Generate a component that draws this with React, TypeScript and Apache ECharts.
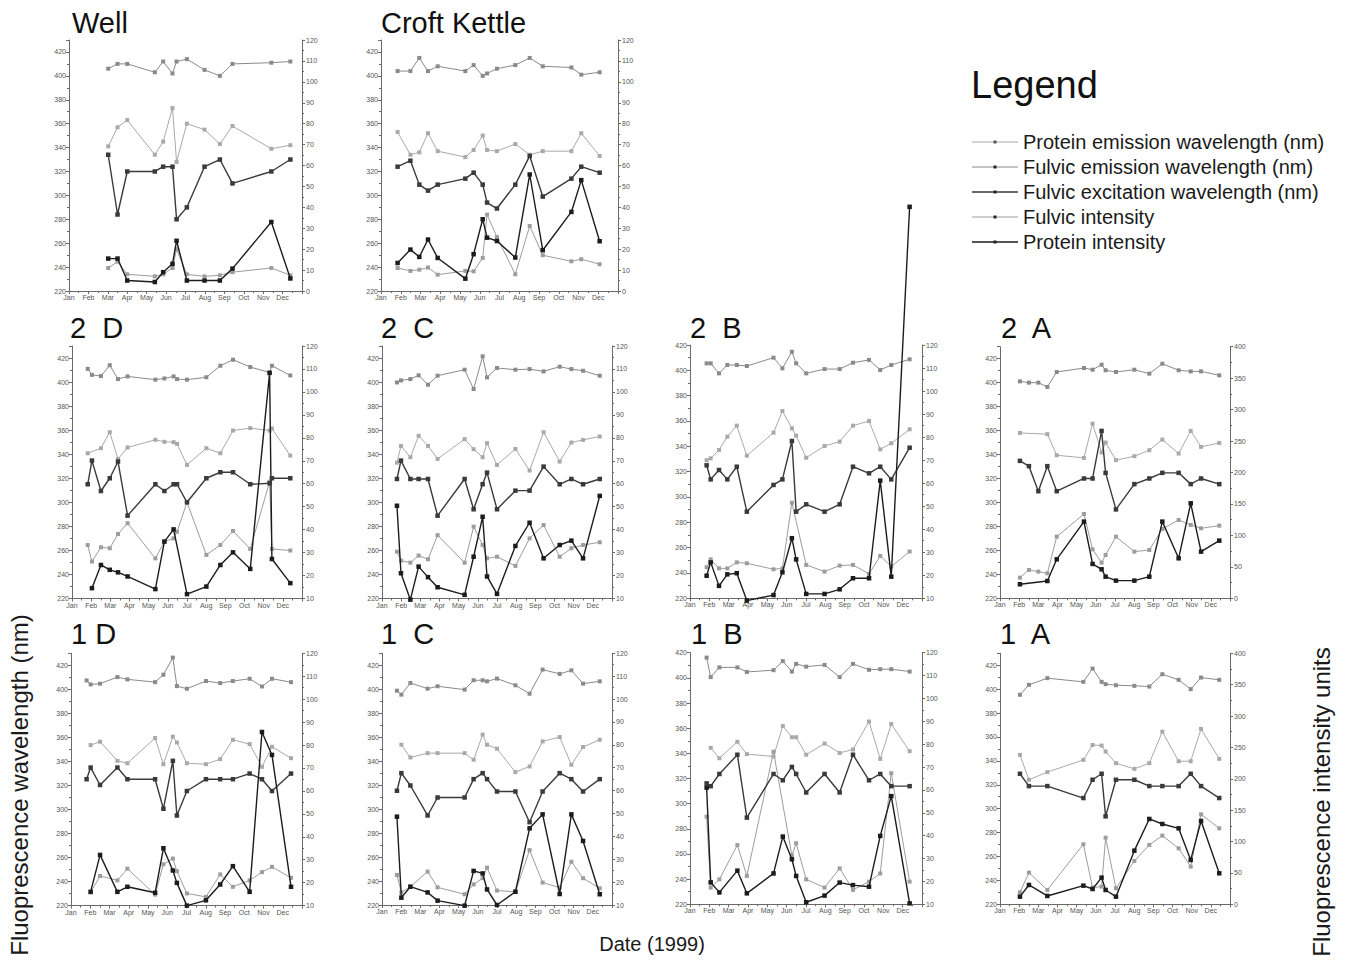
import React, { useEffect, useRef } from "react";
import * as echarts from "echarts";

const MONTH_LABELS = ["Jan", "Feb", "Mar", "Apr", "May", "Jun", "Jul", "Aug", "Sep", "Oct", "Nov", "Dec"];
const SERIES_NAMES = [
  "Protein emission wavelength (nm)",
  "Fulvic emission wavelength (nm)",
  "Fulvic excitation wavelength (nm)",
  "Fulvic intensity",
  "Protein intensity",
];
const PANEL_TITLES = ["Well", "Croft Kettle", "2  D", "2  C", "2  B", "2  A", "1 D", "1  C", "1  B", "1  A"];

// Well
const WELL_MONTHS = [2.02, 2.5, 3.0, 4.42, 4.85, 5.33, 5.54, 6.07, 6.98, 7.77, 8.42, 10.42, 11.4];
const WELL_PE = [341, 357, 363, 334, 345, 373, 328, 360, 355, 343, 358, 339, 342];
const WELL_FE = [406, 410, 410, 403, 412, 402, 412, 414, 405, 400, 410, 411, 412];
const WELL_FEX = [334, 284, 320, 320, 324, 324, 280, 290, 324, 330, 310, 320, 330];
const WELL_FI = [11, 14, 8, 7, 8, 11, 20, 8, 7, 7.5, 9, 11, 7.5];
const WELL_PI = [15.5, 15.5, 5, 4.3, 9, 13, 24, 5, 5, 5, 10.7, 33, 6];

// Croft Kettle
const CK_MONTHS = [0.84, 1.49, 1.94, 2.38, 2.87, 4.27, 4.69, 5.15, 5.37, 5.87, 6.8, 7.53, 8.19, 9.64, 10.14, 11.07];
const CK_PE = [353, 334, 336, 352, 337, 332, 338, 350, 338, 337, 343, 334, 337, 337, 352, 333];
const CK_FE = [404, 404, 415, 404, 408, 404, 409, 400, 402, 406, 409, 415, 408, 407, 401, 403];
const CK_FEX = [324, 329, 309, 304, 309, 314, 319, 309, 294, 289, 309, 333, 299, 314, 324, 319];
const CK_FI = [11, 9.6, 10.2, 11.2, 7.8, 9.6, 9.4, 15.8, 36.5, 25.8, 8, 31.1, 17.1, 14.2, 15.2, 12.8];
const CK_PI = [13.4, 19.8, 16.3, 24.6, 15.8, 5.9, 17.6, 34.3, 25.5, 23.9, 16, 55.7, 19.5, 37.8, 53, 23.8];

// 2 D
const D2_MONTHS = [0.82, 1.04, 1.51, 1.97, 2.4, 2.9, 4.35, 4.82, 5.3, 5.48, 6.0, 7.01, 7.74, 8.4, 9.3, 10.31, 10.43, 11.39];
const D2_PE = [340.8, null, 345, 358.3, 336, 345.6, 352, 350.3, 350, 348.6, 331.1, 345, 340.8, 359.7, 361.7, 359.7, 361.4, 338.9];
const D2_FE = [411, 406, 405, 414, 402.5, 404.7, 402, 403, 404.7, 402.5, 402, 404, 413.6, 418.6, 412.5, 408, 413.6, 405.5];
const D2_FEX = [315, 334.7, 309.4, 320, 333.9, 288.9, 315, 309.4, 315, 315, 300, 320, 325, 325, 315, 315.8, 320, 320];
const D2_FI = [33.3, 26.1, 32.3, 31.9, 38.1, 42.8, 27.5, 34.8, 36.2, 39.1, 51.9, 29, 33.3, 39.4, 31.6, 60.9, 31.6, 30.9];
const D2_PI = [null, 14.5, 24.6, 22.5, 21.4, 19.6, 14.1, 34.8, 40.1, null, 11.9, 15.2, 24.6, 30.1, 22.9, 108.3, 27.2, 16.7];

// 2 C
const C2_MONTHS = [0.78, 0.99, 1.48, 1.91, 2.4, 2.9, 4.31, 4.78, 5.25, 5.48, 6.0, 6.96, 7.7, 8.43, 9.27, 9.88, 10.49, 11.36];
const C2_PE = [333, 346.9, 337.5, 355.3, 346.9, 336.1, 352.5, 344.2, 337.5, 349.2, 331.1, 344.4, 326.4, 358.3, 333.9, 349.7, 351.9, 354.7];
const C2_FE = [399.7, 401.4, 402.5, 405.6, 397.8, 405.3, 410.3, 394.2, 421.4, 403.9, 411.7, 410.3, 410.8, 408.9, 412.8, 410.8, 409.4, 405.3];
const C2_FEX = [319.4, 334.7, 319.4, 319.4, 319.4, 288.9, 319.4, 294.2, 315, 324.7, 294.2, 309.7, 309.7, 329.7, 315, 319.4, 315, 319.4];
const C2_FI = [30.4, 26.5, 25.6, 28.7, 27.1, 37.6, 25.6, 41.3, 33.3, 27.5, 28.2, 24.2, 36.2, 42, 28.2, 31.9, 33.3, 34.5];
const C2_PI = [50.4, 21, 9.5, 23.9, 19.3, 14.9, 11.6, 28.2, 45.6, 19.6, 12, 32.9, 43, 27.5, 33.3, 35.2, 27.5, 54.7];

// 2 B
const B2_MONTHS = [0.86, 1.07, 1.5, 1.93, 2.42, 2.94, 4.32, 4.78, 5.27, 5.49, 6.01, 6.96, 7.74, 8.43, 9.26, 9.84, 10.41, 11.36];
const B2_PE = [329, 330.5, 337.1, 347.6, 356.3, 332.6, 350.8, 367.9, 354.2, 348.4, 331, 340.3, 343.7, 356.3, 360, 337.6, 342.4, 353.4];
const B2_FE = [405.5, 405.5, 397.6, 404.2, 404.2, 403.4, 410, 401.6, 414.7, 405.5, 397.6, 401, 401, 406, 408.2, 400.3, 404.2, 408.7];
const B2_FEX = [325, 313.9, 321.3, 313.9, 323.9, 288.4, 309.5, 313.9, 344.2, 288.4, 294.2, 288.4, 294.2, 323.9, 318.7, 323.9, 313.9, 338.9];
const B2_FI = [23.5, 26.9, 23, 23, 25.6, 25.2, 22.6, 23, 51.5, null, 24.5, 21.6, 24.2, 24.5, 20.6, 28.4, 23.8, 30.3];
const B2_PI = [19.8, 25.6, 15.4, 20.4, 20.9, 9, 11.4, 21.3, 36.1, 26.9, 11.9, 11.9, 13.9, 18.7, 18.7, 61.1, 19.4, 180];

// 2 A
const A2_MONTHS = [1.04, 1.51, 2.0, 2.47, 2.96, 4.38, 4.83, 5.3, 5.51, 6.05, 7.01, 7.79, 8.47, 9.32, 9.95, 10.49, 11.44];
const A2_PE = [358, null, null, 357, 339.4, 337.2, 365.8, 341.7, 350, 335.3, 338.6, 343.6, 352.5, 340.8, 359.7, 346.4, 349.7];
const A2_FE = [401.1, 400, 400, 396.4, 408.9, 412.2, 410.8, 415, 410.3, 408.9, 410.8, 407.5, 415.8, 410.3, 409.4, 409.4, 406.1];
const A2_FEX = [334.7, 330.3, 309.4, 330.3, 309.4, 320, 320, 359.7, 324.7, 294.2, 315.3, 320, 324.7, 324.7, 315.3, 320, 315.3];
const A2_FI = [32.8, 45, 42.4, 39.7, 98, 134, 77.9, 56.7, 68.9, 98, 74.2, 76.8, 110.2, 124.5, 116.6, 111.3, 115.5];
const A2_PI = [22.3, null, null, 27.5, 62, 121.9, 54.6, 46.1, 34.4, 28.1, 28.1, 34.4, 121.9, 63.6, 151, 74.2, 91.7];

// 1 D
const D1_MONTHS = [0.81, 1.02, 1.51, 2.41, 2.93, 4.37, 4.8, 5.29, 5.5, 6.02, 7.01, 7.75, 8.41, 9.28, 9.92, 10.44, 11.43];
const D1_PE = [null, 353.6, 356.4, 340.5, 338.5, 359.5, 337.7, 360.6, 355.8, 338.5, 337.7, 341.9, 358, 354.4, 335.5, 352.2, 342.7];
const D1_FE = [407.4, 404.1, 404.7, 410.2, 408.3, 406, 412.2, 426.4, 402.7, 400.5, 406.9, 405.2, 406.9, 408.8, 402.4, 408.8, 406];
const D1_FEX = [325.2, 334.9, 320.4, 334.9, 325.2, 325.2, 300.6, 340.5, 295, 315.4, 325.2, 325.2, 325.2, 329.9, 325.2, 315.4, 329.9];
const D1_FI = [null, 15.8, 22.9, 21, 26.1, 14.8, 28, 30.5, 25, 15.3, 13.8, 23.6, 18.2, 21, 24.6, 26.9, 22.1];
const D1_PI = [null, 16, 32.1, 16, 18.2, 15.6, 35, 25.3, 19.9, 10, 12.3, 19.2, 27.2, 16, 85.7, 75.7, 18.2];

// 1 C
const C1_MONTHS = [0.78, 1.01, 1.48, 2.38, 2.9, 4.31, 4.78, 5.25, 5.48, 6.0, 6.96, 7.7, 8.38, 9.27, 9.88, 10.49, 11.36];
const C1_PE = [null, 353.7, 343.1, 346.7, 346.7, 346.7, 341.2, 362.1, 353.7, 350.4, 330.9, 335.6, 356.5, 360.1, 337, 351.8, 357.9];
const C1_FE = [398.8, 395.5, 405.2, 400.5, 402.5, 399.7, 407.5, 407.5, 406.6, 408.9, 403.3, 396.3, 416.4, 412.8, 415.8, 404.7, 406.6];
const C1_FEX = [315.3, 330, 319.7, 294.7, 309.7, 309.7, 325, 330, 325, 314.7, 314.7, 289.1, 314.7, 330, 325, 314.7, 325];
const C1_FI = [23.1, 15.5, 18, 24.6, 17.7, 14.7, 19, 21.7, 26.3, 16.3, 15.8, 34, 19.8, 17.6, 28.9, 21.7, 17.3];
const C1_PI = [48.6, 13.2, 18, 15.5, 11.9, 9.7, 24.9, 23.8, 16.8, 10, 15.8, 43.5, 49.6, 14.8, 49.6, 38, 14.7];

// 1 B
const B1_MONTHS = [0.86, 1.07, 1.52, 2.45, 2.94, 4.32, 4.8, 5.27, 5.49, 6.01, 6.96, 7.74, 8.43, 9.26, 9.84, 10.41, 11.36];
const B1_PE = [null, 344.4, 336.1, 349.2, 339.4, 337.5, 361.7, 352.8, 352.8, 338.9, 347.8, 340.3, 343.1, 365.3, 335.6, 363.3, 341.7];
const B1_FE = [416.1, 400.6, 408.3, 408.3, 404.7, 406.1, 413.3, 405, 411.1, 408.9, 410.3, 400.6, 411.1, 406.4, 406.9, 406.9, 405];
const B1_FEX = [316.1, 313.9, 323.6, 338.9, 288.9, 323.6, 318.6, 329.2, 323.6, 308.9, 323.6, 308.9, 338.9, 318.6, 323.6, 313.9, 313.9];
const B1_FI = [48.3, 17.3, 20.9, 35.9, 22.4, 76.7, null, 31.3, 36.7, 20.9, 17.3, 25.7, 16.3, 19.9, 23.5, 67.3, 19.9];
const B1_PI = [61, 19.6, 15.2, 24.7, 14.8, 23.5, 39.6, 29.7, 22.4, 10.9, 13.8, 19.5, 18.4, 17.7, 39.9, 57.3, 10.4];

// 1 A
const A1_MONTHS = [1.04, 1.51, 2.47, 4.35, 4.83, 5.3, 5.51, 6.05, 7.01, 7.79, 8.47, 9.32, 9.95, 10.49, 11.44];
const A1_PE = [345, 324.2, 330.6, 340.8, 353.3, 352.8, 347.8, 338.1, 333.3, 338.1, 364.4, 339.7, 339.7, 366.7, 341.7];
const A1_FE = [395.3, 403.6, 409.2, 406.1, 417.2, 406.1, 404.2, 403.3, 402.8, 402.2, 412.5, 407.8, 400, 409.7, 407.8];
const A1_FEX = [329.2, 318.9, 318.9, 308.9, 324.2, 329.2, 293.6, 324.2, 324.2, 318.9, 318.9, 318.9, 329.2, 318.9, 308.9];
const A1_FI = [19.1, 50.5, 22.8, 95.6, 26.6, 28.2, 106.2, 25.5, 69.1, 94.6, 109.4, 89.2, 60, 143.4, 121.1];
const A1_PI = [12.2, 30.8, 13.3, 29.7, 24.4, 42.5, 22.8, 12.2, 85.5, 136, 128, 121.1, 70.7, 132.8, 49.4];

const PANEL_DATA = [
  [WELL_MONTHS, WELL_PE, WELL_FE, WELL_FEX, WELL_FI, WELL_PI],
  [CK_MONTHS, CK_PE, CK_FE, CK_FEX, CK_FI, CK_PI],
  [D2_MONTHS, D2_PE, D2_FE, D2_FEX, D2_FI, D2_PI],
  [C2_MONTHS, C2_PE, C2_FE, C2_FEX, C2_FI, C2_PI],
  [B2_MONTHS, B2_PE, B2_FE, B2_FEX, B2_FI, B2_PI],
  [A2_MONTHS, A2_PE, A2_FE, A2_FEX, A2_FI, A2_PI],
  [D1_MONTHS, D1_PE, D1_FE, D1_FEX, D1_FI, D1_PI],
  [C1_MONTHS, C1_PE, C1_FE, C1_FEX, C1_FI, C1_PI],
  [B1_MONTHS, B1_PE, B1_FE, B1_FEX, B1_FI, B1_PI],
  [A1_MONTHS, A1_PE, A1_FE, A1_FEX, A1_FI, A1_PI],
];

// layout (pixels) and axis ranges per panel
const LAYOUT = [
  { left: 69, top: 40, width: 233, height: 251, yMax: 430, r: [0, 120, 10], tx: 72, ty: 23 },
  { left: 381, top: 40, width: 237, height: 251, yMax: 430, r: [0, 120, 10], tx: 381, ty: 23 },
  { left: 72, top: 346, width: 230, height: 252.5, yMax: 430, r: [10, 120, 10], tx: 70, ty: 328 },
  { left: 382, top: 346, width: 230, height: 252.5, yMax: 430, r: [10, 120, 10], tx: 381, ty: 328 },
  { left: 690, top: 345, width: 232, height: 253.3, yMax: 420, r: [10, 120, 10], tx: 690, ty: 328 },
  { left: 1000, top: 346.7, width: 230, height: 251.6, yMax: 430, r: [0, 400, 50], tx: 1001, ty: 328 },
  { left: 71, top: 653.3, width: 231, height: 252.3, yMax: 430, r: [10, 120, 10], tx: 71, ty: 634 },
  { left: 382, top: 653.3, width: 230, height: 251.7, yMax: 430, r: [10, 120, 10], tx: 381, ty: 634 },
  { left: 690, top: 652.7, width: 232, height: 251.6, yMax: 420, r: [10, 120, 10], tx: 691, ty: 634 },
  { left: 1000, top: 653.3, width: 230, height: 251, yMax: 430, r: [0, 400, 50], tx: 1000, ty: 634 },
];

const COLORS = ["#a9a9a9", "#8a8a8a", "#3a3a3a", "#9d9d9d", "#1c1c1c"];
const WIDTHS = [1, 1, 1.4, 1, 1.4];
const FONT = "'Liberation Sans', Arial, Helvetica, sans-serif";

function pairs(months: number[], vals: (number | null)[]) {
  const out: number[][] = [];
  months.forEach((m, i) => {
    const v = vals[i];
    if (v !== null && v !== undefined) out.push([m, v]);
  });
  return out;
}

function buildOption() {
  const grid: any[] = [];
  const xAxis: any[] = [];
  const yAxis: any[] = [];
  const series: any[] = [];
  const graphic: any[] = [];
  const axisColor = "#6a6a6a";
  const labelStyle = { fontSize: 7, color: "#555", fontFamily: FONT };

  LAYOUT.forEach((L, i) => {
    grid.push({ left: L.left, top: L.top, width: L.width, height: L.height });
    xAxis.push({
      type: "value",
      gridIndex: i,
      min: 0,
      max: 12,
      interval: 1,
      splitLine: { show: false },
      axisLine: { show: true, onZero: false, lineStyle: { color: axisColor, width: 1 } },
      axisTick: { show: true, length: 3, lineStyle: { color: axisColor } },
      minorTick: { show: true, splitNumber: 2, length: 2, lineStyle: { color: axisColor } },
      axisLabel: {
        ...labelStyle,
        margin: 3,
        formatter: (v: number) => (MONTH_LABELS[Math.round(v)] !== undefined && v < 12 ? MONTH_LABELS[Math.round(v)] : ""),
      },
    });
    yAxis.push({
      type: "value",
      gridIndex: i,
      position: "left",
      min: 220,
      max: L.yMax,
      interval: 20,
      splitLine: { show: false },
      axisLine: { show: true, onZero: false, lineStyle: { color: axisColor, width: 1 } },
      axisTick: { show: true, length: 3, lineStyle: { color: axisColor } },
      minorTick: { show: true, splitNumber: 2, length: 2, lineStyle: { color: axisColor } },
      axisLabel: { ...labelStyle, margin: 3, formatter: (v: number) => (v <= 420 ? String(v) : "") },
    });
    yAxis.push({
      type: "value",
      gridIndex: i,
      position: "right",
      min: L.r[0],
      max: L.r[1],
      interval: L.r[2],
      splitLine: { show: false },
      axisLine: { show: true, onZero: false, lineStyle: { color: axisColor, width: 1 } },
      axisTick: { show: true, length: 3, lineStyle: { color: axisColor } },
      minorTick: { show: true, splitNumber: 2, length: 2, lineStyle: { color: axisColor } },
      axisLabel: { ...labelStyle, margin: 4 },
    });

    const d = PANEL_DATA[i] as any[];
    const months = d[0] as number[];
    for (let s = 0; s < 5; s++) {
      series.push({
        type: "line",
        name: SERIES_NAMES[s],
        xAxisIndex: i,
        yAxisIndex: s < 3 ? 2 * i : 2 * i + 1,
        data: pairs(months, d[s + 1]),
        symbol: "rect",
        symbolSize: s === 2 || s === 4 ? 4.5 : 4,
        showSymbol: true,
        clip: false,
        silent: true,
        z: s === 2 || s === 4 ? 3 : 2,
        lineStyle: { color: COLORS[s], width: WIDTHS[s] },
        itemStyle: { color: COLORS[s], borderColor: COLORS[s], borderWidth: 0 },
      });
    }

    graphic.push({
      type: "text",
      x: L.tx,
      y: L.ty,
      style: {
        text: PANEL_TITLES[i],
        fontSize: 29,
        fontFamily: FONT,
        fill: "#111",
        align: "left",
        verticalAlign: "middle",
        textAlign: "left",
        textVerticalAlign: "middle",
      },
    });
  });

  // Legend block
  graphic.push({
    type: "text",
    x: 971,
    y: 85,
    style: {
      text: "Legend",
      fontSize: 38,
      fontFamily: FONT,
      fill: "#111",
      align: "left",
      verticalAlign: "middle",
      textAlign: "left",
      textVerticalAlign: "middle",
    },
  });
  SERIES_NAMES.forEach((name, s) => {
    const y = 142 + s * 25;
    graphic.push({
      type: "line",
      shape: { x1: 972, y1: y, x2: 1018, y2: y },
      style: { stroke: COLORS[s], lineWidth: WIDTHS[s] },
    });
    graphic.push({
      type: "rect",
      shape: { x: 993.5, y: y - 1.5, width: 3, height: 3 },
      style: { fill: COLORS[s] === "#a9a9a9" ? "#555" : "#222" },
    });
    graphic.push({
      type: "text",
      x: 1023,
      y: y,
      style: {
        text: name,
        fontSize: 20,
        fontFamily: FONT,
        fill: "#1a1a1a",
        align: "left",
        verticalAlign: "middle",
        textAlign: "left",
        textVerticalAlign: "middle",
      },
    });
  });

  // Axis titles
  graphic.push({
    type: "text",
    x: 652,
    y: 944,
    style: {
      text: "Date (1999)",
      fontSize: 20,
      fontFamily: FONT,
      fill: "#1a1a1a",
      align: "center",
      verticalAlign: "middle",
      textAlign: "center",
      textVerticalAlign: "middle",
    },
  });
  graphic.push({
    type: "text",
    x: 19,
    y: 785,
    rotation: Math.PI / 2,
    style: {
      text: "Fluoprescence wavelength (nm)",
      fontSize: 24,
      fontFamily: FONT,
      fill: "#1a1a1a",
      align: "center",
      verticalAlign: "middle",
      textAlign: "center",
      textVerticalAlign: "middle",
    },
  });
  graphic.push({
    type: "text",
    x: 1321,
    y: 802,
    rotation: Math.PI / 2,
    style: {
      text: "Fluoprescence intensity units",
      fontSize: 24,
      fontFamily: FONT,
      fill: "#1a1a1a",
      align: "center",
      verticalAlign: "middle",
      textAlign: "center",
      textVerticalAlign: "middle",
    },
  });

  return {
    animation: false,
    backgroundColor: "#ffffff",
    textStyle: { fontFamily: FONT },
    grid,
    xAxis,
    yAxis,
    series,
    graphic,
  };
}

export default function App() {
  const ref = useRef<HTMLDivElement>(null);
  useEffect(() => {
    if (!ref.current) return;
    const chart = echarts.init(ref.current, null, { renderer: "svg" });
    chart.setOption(buildOption() as any);
    return () => chart.dispose();
  }, []);
  return (
    <div
      ref={ref}
      style={{ position: "absolute", left: 0, top: 0, width: 1350, height: 968, background: "#fff" }}
    />
  );
}
